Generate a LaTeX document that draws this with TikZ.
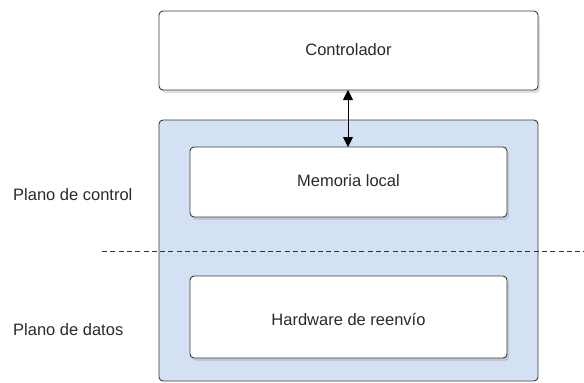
\documentclass[tikz,border=0pt]{standalone}
\usepackage{fontspec}
\setmainfont{Liberation Sans}
\usetikzlibrary{arrows.meta,shadows}
\definecolor{planefill}{HTML}{D4E1F5}
\definecolor{edgegray}{HTML}{3A3A3A}
\definecolor{textgray}{HTML}{2A2A2A}
\tikzset{
  px/.style={x=1pt,y=-1pt},
  block/.style={draw=edgegray,line width=0.9pt,rounded corners=4pt,fill=white,
    drop shadow={shadow xshift=2pt,shadow yshift=-3pt,opacity=0.25}},
  plane/.style={draw=edgegray,line width=0.9pt,rounded corners=4pt,fill=planefill},
  lbl/.style={font=\fontsize{16.5}{19}\selectfont,text=textgray},
  link/.style={line width=0.9pt,{Triangle[length=10pt,width=10pt]}-{Triangle[length=10pt,width=10pt]}},
  divider/.style={line width=0.7pt,dash pattern=on 5pt off 3.3pt,black!80}
}
\begin{document}
\begin{tikzpicture}[px]
  \useasboundingbox (0,0) rectangle (584,383);
  % switch body holding both planes
  \draw[plane] (159,120) rectangle (538,381);
  % controller and the two internal blocks
  \draw[block] (159,11) rectangle (538,90);
  \node[lbl] (ctrl) at (348.5,50) {Controlador};
  \draw[block] (190,147) rectangle (507,217);
  \node[lbl] (mem) at (348.5,181) {Memoria local};
  \draw[block] (190,276) rectangle (507,358);
  \node[lbl] (hw) at (348.5,320) {Hardware de reenvío};
  \coordinate (ctrlB) at (348,90);
  \coordinate (memT) at (348,147);
  \draw[link] (ctrlB) -- (memT);
  % boundary between control and data planes
  \coordinate (divL) at (102,251);
  \coordinate (divR) at (584,251);
  \draw[divider] (divL) -- (divR);
  \node[lbl,anchor=west,inner sep=0pt] (pc) at (13,195) {Plano de control};
  \node[lbl,anchor=west,inner sep=0pt] (pd) at (13,330) {Plano de datos};
\end{tikzpicture}
\end{document}
